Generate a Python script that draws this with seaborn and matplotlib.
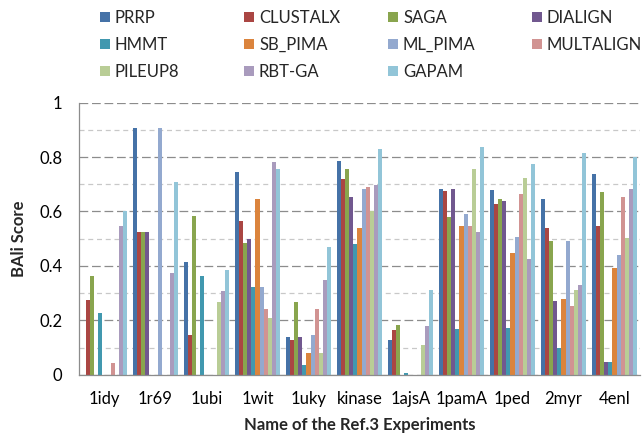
import numpy as np
import pandas as pd
import matplotlib
matplotlib.use("Agg")
import matplotlib.pyplot as plt
import seaborn as sns
from matplotlib.patches import Patch
from matplotlib.ticker import MultipleLocator

experiments = ["1idy", "1r69", "1ubi", "1wit", "1uky", "kinase", "1ajsA",
               "1pamA", "1ped", "2myr", "4enl"]
methods = ["PRRP", "CLUSTALX", "SAGA", "DIALIGN", "HMMT", "SB_PIMA",
           "ML_PIMA", "MULTALIGN", "PILEUP8", "RBT-GA", "GAPAM"]

prrp      = [0.000, 0.906, 0.413, 0.744, 0.137, 0.784, 0.126, 0.682, 0.679, 0.647, 0.737]
clustalx  = [0.274, 0.523, 0.145, 0.564, 0.128, 0.720, 0.163, 0.677, 0.627, 0.539, 0.547]
saga      = [0.363, 0.523, 0.585, 0.483, 0.269, 0.758, 0.184, 0.578, 0.647, 0.493, 0.672]
dialign   = [0.000, 0.523, 0.000, 0.499, 0.137, 0.652, 0.000, 0.682, 0.640, 0.271, 0.048]
hmmt      = [0.226, 0.000, 0.364, 0.321, 0.034, 0.479, 0.005, 0.167, 0.171, 0.099, 0.048]
sb_pima   = [0.000, 0.000, 0.000, 0.645, 0.081, 0.541, 0.000, 0.546, 0.449, 0.277, 0.391]
ml_pima   = [0.000, 0.906, 0.000, 0.321, 0.146, 0.682, 0.000, 0.589, 0.507, 0.493, 0.439]
multalign = [0.043, 0.000, 0.000, 0.240, 0.240, 0.690, 0.000, 0.546, 0.665, 0.252, 0.653]
pileup8   = [0.000, 0.000, 0.266, 0.207, 0.081, 0.600, 0.108, 0.755, 0.723, 0.310, 0.501]
rbt_ga    = [0.546, 0.373, 0.309, 0.782, 0.350, 0.699, 0.179, 0.524, 0.425, 0.329, 0.681]
gapam     = [0.601, 0.708, 0.386, 0.758, 0.469, 0.829, 0.310, 0.837, 0.775, 0.815, 0.800]

ytick_values = [0, 0.2, 0.4, 0.6, 0.8, 1.0]
ytick_labels = ["0", "0.2", "0.4", "0.6", "0.8", "1"]

colors = ["#4572A7", "#AA4643", "#89A54E", "#71588F", "#4198AF", "#DB843D",
          "#93A9CF", "#D19392", "#B9CD96", "#A99BBD", "#92C5D8"]

series = [prrp, clustalx, saga, dialign, hmmt, sb_pima, ml_pima,
          multalign, pileup8, rbt_ga, gapam]
rows = []
for m, vals in zip(methods, series):
    for e, v in zip(experiments, vals):
        rows.append({"experiment": e, "method": m, "score": v})
df = pd.DataFrame(rows)

sns.set_style("white")
plt.rcParams["font.family"] = ["Lato", "DejaVu Sans"]
FS = 12

fig = plt.figure(figsize=(6.44, 4.36), dpi=100)
ax = fig.add_axes([79 / 644, 1 - 374.7 / 436, 561 / 644, 272 / 436])

sns.barplot(data=df, x="experiment", y="score", hue="method",
            order=experiments, hue_order=methods, palette=colors,
            width=0.89, saturation=1, linewidth=0, legend=False, ax=ax)

ax.set_ylim(0, 1)
ax.set_xlim(-0.5, 10.5)
ax.set_yticks(ytick_values)
ax.set_yticklabels(ytick_labels)
ax.yaxis.set_minor_locator(MultipleLocator(0.1))
ax.set_axisbelow(True)
ax.grid(False)
ax.yaxis.grid(True, which="major", color="#8C8C8C", linestyle=(0, (7, 3)), linewidth=0.9)
ax.yaxis.grid(True, which="minor", color="#C8C8C8", linestyle=(0, (4, 3)), linewidth=0.9)

ax.set_xticks(np.arange(-0.5, 11, 1), minor=True)
ax.tick_params(axis="x", which="major", length=0, pad=12, labelsize=FS, labelcolor="#000000")
ax.tick_params(axis="x", which="minor", length=5, width=0.9, color="#8C8C8C", direction="out")
ax.tick_params(axis="y", which="major", length=6, width=0.9, color="#8C8C8C", pad=6,
               labelsize=FS, labelcolor="#000000", direction="out")
ax.tick_params(axis="y", which="minor", length=0)

for s in ["top", "right"]:
    ax.spines[s].set_visible(False)
for s in ["left", "bottom"]:
    ax.spines[s].set_color("#8C8C8C")
    ax.spines[s].set_linewidth(0.9)

ax.set_xlabel("")
ax.set_ylabel("")
fig.text(19 / 644, 1 - 238.7 / 436, "BAli Score", rotation=90, ha="center", va="center",
         fontsize=FS, fontweight="bold")
fig.text(359.5 / 644, 1 - 425 / 436, "Name of the Ref.3 Experiments", ha="center", va="center",
         fontsize=FS, fontweight="bold")

col_x = [100, 244, 388, 532]
for j, cx in enumerate(col_x):
    idx = [j, j + 4, j + 8]
    idx = [i for i in idx if i < len(methods)]
    handles = [Patch(facecolor=colors[i], edgecolor="none") for i in idx]
    labels = [methods[i] for i in idx]
    fig.legend(handles, labels, loc="upper left", bbox_to_anchor=(cx / 644, 1 - 10 / 436),
               frameon=False, fontsize=FS, handlelength=0.6, handleheight=0.5,
               handletextpad=0.3, labelspacing=0.66, borderpad=0, borderaxespad=0)

fig.savefig("out.png", dpi=100)
